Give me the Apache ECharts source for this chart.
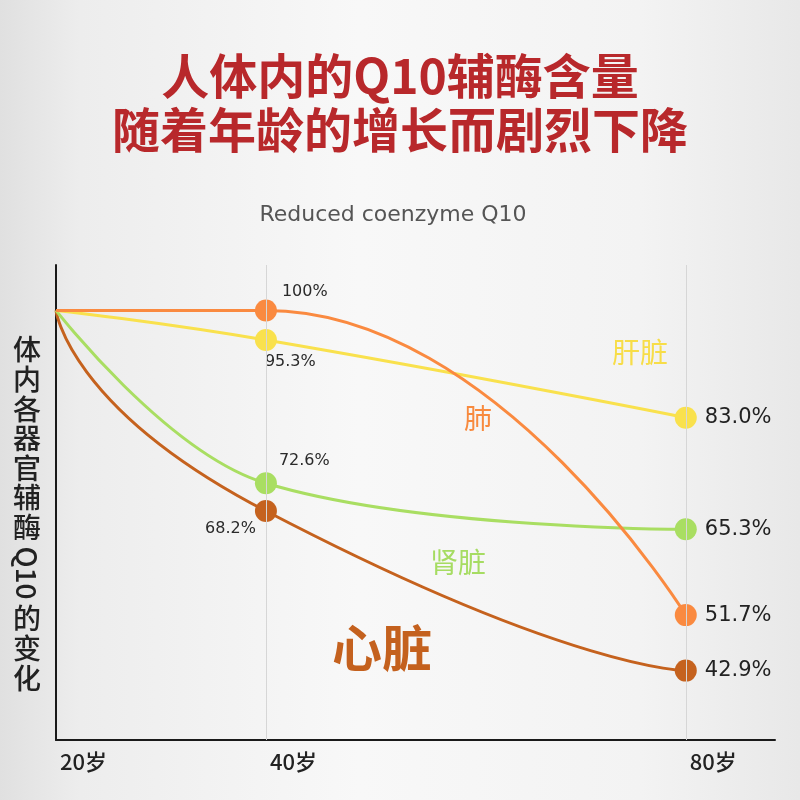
<!DOCTYPE html>
<html><head><meta charset="utf-8">
<script src="https://cdn.jsdelivr.net/npm/echarts@6/dist/echarts.min.js"></script>
<style>html,body{margin:0;padding:0;}#c{width:800px;height:800px;}</style>
</head><body><div id="c"></div>
<script>
// ---- data ----
const ages = [20, 40, 80];
const ageLabels = ['20岁', '40岁', '80岁'];
const lung = [100, 100, 51.7];      // 肺
const liver = [100, 95.3, 83.0];    // 肝脏
const kidney = [100, 72.6, 65.3];   // 肾脏
const heart = [100, 68.2, 42.9];    // 心脏
const seriesNames = ['肺', '肝脏', '肾脏', '心脏'];
const titleText = '人体内的Q10辅酶含量\n随着年龄的增长而剧烈下降';
const subtitleText = 'Reduced coenzyme Q10';
const yNameParts = ['体内各器官辅酶', 'Q10', '的变化'];

const CJK = '"Noto Sans CJK SC", sans-serif';
const NUM = '"DejaVu Sans", sans-serif';
const fmt = v => (v >= 100 ? '100%' : v.toFixed(1) + '%');

function build(values, midLabel) {
  return values.map((v, i) => {
    const item = { value: [ages[i], v] };
    if (i === 0) { item.symbol = 'none'; item.label = { show: false }; }
    else if (i === 1) { item.label = Object.assign({ show: true, fontSize: 16, color: '#2a2a2a', fontFamily: NUM, formatter: p => fmt(p.value[1]) }, midLabel); }
    else { item.label = { show: true, position: 'right', distance: 8, fontSize: 21, color: '#222', fontFamily: NUM, formatter: p => fmt(p.value[1]) }; }
    return item;
  });
}

function lineSeries(name, values, color, midLabel, extra) {
  return Object.assign({
    name: name, type: 'line', data: build(values, midLabel),
    smooth: 0.5, symbol: 'circle', symbolSize: 22, showSymbol: true,
    lineStyle: { color: color, width: 3 }, itemStyle: { color: color },
    emphasis: { disabled: true }
  }, extra || {});
}

const chart = echarts.init(document.getElementById('c'));
chart.setOption({
  animation: false,
  backgroundColor: {
    type: 'linear', x: 0, y: 0, x2: 1, y2: 0,
    colorStops: [
      { offset: 0, color: '#e0e0e0' }, { offset: 0.1, color: '#ededed' },
      { offset: 0.45, color: '#f8f8f8' }, { offset: 0.8, color: '#f3f3f3' }, { offset: 1, color: '#e8e8e8' }
    ]
  },
  title: [{
    text: titleText, left: 'center', top: 44,
    textStyle: { fontFamily: CJK, fontSize: 48, fontWeight: 'bold', color: '#b8282b', lineHeight: 54 }
  }, {
    text: subtitleText, left: 388, top: 199, textAlign: 'center',
    textStyle: { fontFamily: NUM, fontSize: 22, fontWeight: 'normal', color: '#555' }
  }],
  grid: { left: 56, right: 25, top: 265, bottom: 60 },
  xAxis: {
    type: 'value', min: 20, max: 88.5,
    axisLine: { show: true, lineStyle: { color: '#1a1a1a', width: 2 } },
    axisTick: { show: false },
    splitLine: { show: false },
    axisLabel: {
      customValues: ages, formatter: v => ageLabels[ages.indexOf(v)] || '',
      align: 'left', margin: 11, padding: [0, 0, 0, 4],
      fontSize: 22, fontWeight: 500, color: '#222', fontFamily: CJK
    }
  },
  yAxis: {
    type: 'value', min: 31.9, max: 107.2,
    axisLine: { show: true, lineStyle: { color: '#1a1a1a', width: 2 } },
    axisTick: { show: false }, axisLabel: { show: false }, splitLine: { show: false }
  },
  series: [
    lineSeries(seriesNames[3], heart, '#c5621e', { position: [1, 29], align: 'right', verticalAlign: 'middle' }, {
      smooth: 0.8,
      markLine: {
        silent: true, symbol: 'none', label: { show: false },
        lineStyle: { color: '#d6d6d6', width: 1, type: 'solid' },
        data: [{ xAxis: ages[1] }, { xAxis: ages[2] }]
      }
    }),
    lineSeries(seriesNames[2], kidney, '#a9de62', { position: [24, -11], align: 'left', verticalAlign: 'middle' }, { smooth: 0.4 }),
    lineSeries(seriesNames[1], liver, '#f9e14d', { position: [10, 33], align: 'left', verticalAlign: 'middle' }),
    lineSeries(seriesNames[0], lung, '#fa8a40', { position: [27, -8], align: 'left', verticalAlign: 'middle' }, { smooth: 0.55, smoothMonotone: 'x' })
  ],
  graphic: [
    { type: 'text', x: 27, y: 335, style: { text: yNameParts[0].split('').join('\n'), fontFamily: CJK, fontSize: 28, lineHeight: 29.6, fill: '#222', fontWeight: 500, align: 'center', verticalAlign: 'top' } },
    { type: 'text', x: 27, y: 573, rotation: -Math.PI / 2, style: { text: yNameParts[1], fontFamily: CJK, fontSize: 28, fill: '#222', fontWeight: 500, align: 'center', verticalAlign: 'middle' } },
    { type: 'text', x: 27, y: 604, style: { text: yNameParts[2].split('').join('\n'), fontFamily: CJK, fontSize: 28, lineHeight: 29.6, fill: '#222', fontWeight: 500, align: 'center', verticalAlign: 'top' } },
    { type: 'text', x: 640, y: 352, style: { text: seriesNames[1], fontFamily: CJK, fontSize: 28, fill: '#f7dd48', align: 'center', verticalAlign: 'middle' } },
    { type: 'text', x: 478, y: 418, style: { text: seriesNames[0], fontFamily: CJK, fontSize: 28, fill: '#f88a3e', align: 'center', verticalAlign: 'middle' } },
    { type: 'text', x: 458, y: 562, style: { text: seriesNames[2], fontFamily: CJK, fontSize: 28, fill: '#a6dc62', align: 'center', verticalAlign: 'middle' } },
    { type: 'text', x: 382, y: 648, style: { text: seriesNames[3], fontFamily: CJK, fontSize: 50, fontWeight: 'bold', fill: '#c4611e', align: 'center', verticalAlign: 'middle' } }
  ]
});
</script></body></html>
